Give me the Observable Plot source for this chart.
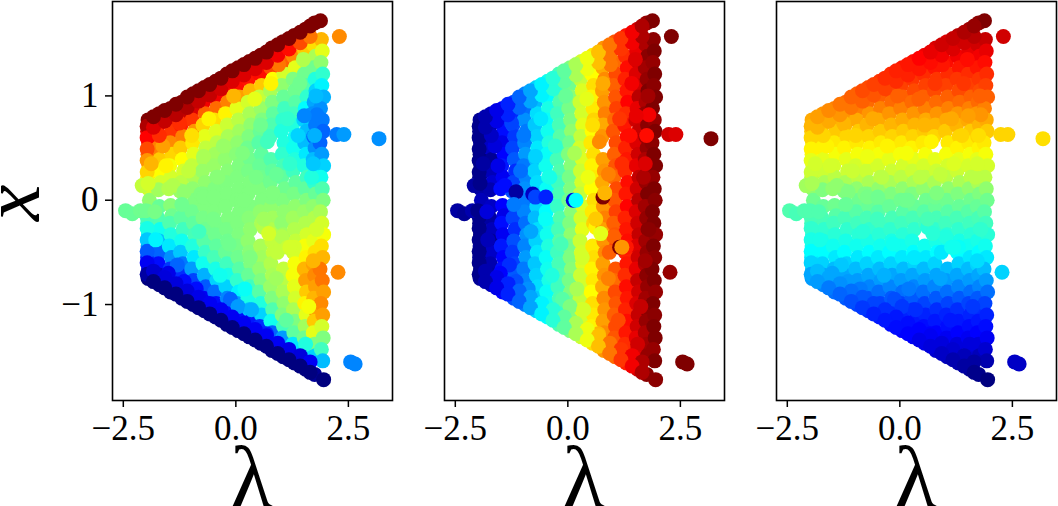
<!DOCTYPE html>
<html><head><meta charset="utf-8">
<script src="https://cdn.jsdelivr.net/npm/d3@7"></script>
<script src="https://cdn.jsdelivr.net/npm/@observablehq/plot@0.6"></script>
<style>html,body{margin:0;padding:0;background:#fff;overflow:hidden}#c{position:relative;width:1058px;height:506px;overflow:hidden}#c svg{position:absolute;top:0;overflow:visible;background:transparent}</style>
</head><body><div id="c"></div>
<script>
const xTicks=[-2.5,0,2.5];
const yTicks=[-1,0,1];
const lambda=[
-1.95,-1.96,-1.94,-1.95,-1.93,-1.96,-1.94,-1.92,-1.95,-1.96,-1.94,-1.95,-1.96,-1.94,-1.95,
-1.70,-1.72,-1.68,-1.73,-1.69,-1.71,-1.67,-1.72,-1.70,-1.73,-1.68,-1.71,-1.69,-1.72,-1.68,-1.70,
-1.45,-1.48,-1.43,-1.46,-1.42,-1.47,-1.44,-1.49,-1.45,-1.42,-1.47,-1.44,-1.48,-1.43,-1.46,-1.42,-1.45,
-1.20,-1.17,-1.22,-1.18,-1.23,-1.19,-1.16,-1.21,-1.24,-1.18,-1.22,-1.17,-1.20,-1.23,-1.18,-1.21,-1.17,-1.20,
-.95,-.93,-.97,-.92,-.96,-.94,-.98,-.93,-.96,-.92,-.97,-.94,-.91,-.96,-.93,-.98,-.94,-.92,-.95,
-.70,-.72,-.68,-.73,-.69,-.67,-.71,-.74,-.68,-.72,-.69,-.73,-.67,-.71,-.68,-.73,-.70,-.67,-.72,-.70,
-.45,-.47,-.43,-.48,-.44,-.42,-.46,-.49,-.43,-.47,-.44,-.48,-.42,-.46,-.43,-.48,-.45,-.42,-.47,-.44,-.45,
-.20,-.22,-.18,-.23,-.19,-.17,-.21,-.24,-.18,-.22,-.19,-.23,-.17,-.21,-.18,-.23,-.20,-.17,-.22,-.19,-.23,-.20,
.05,.03,.07,.02,.06,.08,.04,.01,.07,.03,.06,.02,.08,.04,.07,.02,.05,.08,.03,.06,.02,.05,.05,
.30,.28,.32,.27,.31,.33,.29,.26,.32,.28,.31,.27,.33,.29,.32,.27,.30,.33,.28,.31,.27,.30,.32,.30,
.55,.53,.57,.52,.56,.58,.54,.51,.57,.53,.56,.52,.58,.54,.57,.62,.55,.58,.53,.56,.52,.55,.57,.53,.55,
.80,.78,.82,.77,.81,.83,.79,.76,.70,.78,.81,.77,.83,.79,.82,.77,.80,.83,.78,.81,.77,.80,.82,.78,.81,.80,
1.05,1.03,1.07,1.02,1.06,1.08,1.04,1.01,1.07,1.03,1.06,1.02,1.08,1.04,1.07,1.02,1.05,1.08,.92,1.06,1.02,1.05,1.07,1.03,1.06,1.04,1.05,
1.30,1.28,1.32,1.27,1.31,1.33,1.29,1.26,1.32,1.28,1.31,1.27,1.33,1.29,1.32,1.27,1.30,1.33,1.28,1.31,1.27,1.30,1.32,1.28,1.31,1.29,1.27,1.30,
1.55,1.53,1.57,1.52,1.56,1.58,1.54,1.51,1.57,1.53,1.56,1.52,1.58,1.54,1.57,1.52,1.55,1.58,1.53,1.56,1.52,1.55,1.57,1.53,1.56,1.54,1.52,1.55,1.55,
1.75,1.73,1.77,1.72,1.76,1.78,1.74,1.71,1.77,1.73,1.76,1.72,1.78,1.74,1.77,1.72,1.75,1.78,1.73,1.76,1.72,1.75,1.77,1.73,1.76,1.74,1.72,1.75,1.77,1.75,
1.88,1.90,1.92,1.89,1.93,1.91,1.95,1.88,1.92,1.94,1.87,1.91,1.95,1.89,1.92,1.94,1.88,1.91,1.95,1.90,1.93,1.87,1.92,1.95,1.89,1.93,1.91,1.94,1.90,1.93,1.95,
-1.97,-1.97,-1.97,-1.97,-1.97,-1.97,-1.97,-1.97,-1.97,-1.97,-1.97,
-1.62,.42,-.35,1.2,-1.05,.9,-1.78,.15,1.62,-.6,.62,-1.3,1.42,-.12,-1.55,.78,-.82,1.12,.32,-1.88,1.68,-.28,.55,-.98,1.3,-1.15,.05,1.8,-.5,.9,-1.5,-.05,1.5,.45,-.72,1.02,-1.7,.2,1.72,-1.25,.68,-.4,1.38,.95,-.88,1.55,-1.4,.35,1.15,-.15,
-1.83,-1.58,-1.33,-1.08,-.83,-.58,-.33,-.08,.18,.43,.68,.93,1.18,1.43,1.65,
-1.83,-1.58,-1.33,-1.08,-.83,-.58,-.33,-.08,.18,.43,.68,.93,1.18,1.43,1.65,
-1.83,-1.58,-1.33,-1.08,-.83,-.58,-.33,-.08,.18,.43,.68,.93,1.18,1.43,1.65,
-1.83,-1.58,-1.33,-1.08,-.83,-.58,-.33,-.08,.18,.43,.68,.93,1.18,1.43,1.65,
-2.45,-2.30,-2.12,-2.00,-1.80,-2.08,-1.95,
3.18,2.24,2.40,2.30,2.27,2.55,2.65,
1.75,1.80,1.52,1.78,1.72,
-1.15,-.78,-.72,-.49,-1.20,.12,.18,.78,.82,1.15,1.20,.73
];
const xval=[
.77,.66,.55,.44,.33,.22,.11,0,-.11,-.22,-.33,-.44,-.55,-.66,-.75,
.83,.72,.61,.50,.39,.28,.17,.10,-.06,-.17,-.28,-.39,-.50,-.61,-.72,-.81,
.88,.77,.66,.55,.44,.33,.22,.11,-.05,-.15,-.22,-.33,-.44,-.55,-.66,-.77,-.88,
.94,.83,.72,.61,.50,.39,.28,.17,.09,-.06,-.17,-.28,-.39,-.50,-.61,-.72,-.83,-.94,
1.02,.88,.77,.66,.55,.44,.33,.22,.11,0,-.11,-.22,-.33,-.44,-.55,-.66,-.77,-.88,-1.0,
1.08,.94,.83,.72,.61,.50,.39,.28,.17,.06,-.06,-.17,-.28,-.39,-.50,-.61,-.72,-.83,-.94,-1.06,
1.14,.99,.88,.77,.66,.55,.44,.33,.22,.11,0,-.11,-.22,-.33,-.44,-.55,-.66,-.77,-.88,-.99,-1.12,
1.21,1.05,.94,.83,.72,.61,.50,.39,.28,.17,.06,-.06,-.17,-.28,-.39,-.50,-.61,-.72,-.83,-.94,-1.05,-1.19,
1.27,1.10,.99,.88,.77,.66,.55,.44,.33,.22,.11,0,-.11,-.22,-.33,-.44,-.55,-.66,-.77,-.88,-.99,-1.10,-1.25,
1.33,1.16,1.05,.94,.83,.72,.61,.50,.39,.28,.17,.06,-.06,-.17,-.28,-.39,-.50,-.61,-.72,-.83,-.94,-1.05,-1.16,-1.31,
1.39,1.21,1.10,.99,.88,.77,.66,.55,.44,.33,.22,.11,0,-.11,-.22,-.26,-.44,-.55,-.66,-.77,-.88,-.99,-1.10,-1.21,-1.37,
1.46,1.27,1.16,1.05,.94,.83,.72,.61,.56,.39,.28,.17,.06,-.06,-.17,-.28,-.39,-.50,-.61,-.72,-.83,-.94,-1.05,-1.16,-1.27,-1.44,
1.52,1.32,1.21,1.10,.99,.88,.77,.66,.55,.44,.33,.22,.11,0,-.11,-.22,-.33,-.44,-.50,-.66,-.77,-.88,-.99,-1.10,-1.21,-1.32,-1.50,
1.58,1.38,1.27,1.16,1.05,.94,.83,.72,.61,.50,.39,.28,.17,.06,-.06,-.17,-.28,-.39,-.50,-.61,-.72,-.83,-.94,-1.05,-1.16,-1.27,-1.38,-1.56,
1.64,1.43,1.32,1.21,1.10,.99,.88,.77,.66,.55,.44,.33,.22,.11,0,-.11,-.22,-.33,-.44,-.55,-.66,-.77,-.88,-.99,-1.10,-1.21,-1.32,-1.43,-1.62,
1.70,1.49,1.38,1.27,1.16,1.05,.94,.83,.72,.61,.50,.39,.28,.17,.06,-.06,-.17,-.28,-.39,-.50,-.61,-.72,-.83,-.94,-1.05,-1.16,-1.27,-1.38,-1.49,-1.67,
1.72,1.54,1.43,1.32,1.21,1.10,.99,.88,.77,.66,.55,.44,.33,.22,.11,0,-.11,-.22,-.33,-.44,-.55,-.66,-.77,-.88,-.99,-1.10,-1.21,-1.32,-1.43,-1.54,-1.72,
.71,.60,.49,.38,.27,-.16,-.27,-.38,-.49,-.60,-.71,
.52,.97,-.72,.35,.28,-.75,-.38,.45,-1.02,.78,-.18,-.62,1.12,-.95,.33,1.12,-.3,-1.15,-.55,.35,.22,.52,.72,.62,-.45,-.78,-1.02,-.28,-.18,.25,-.7,1.0,1.35,.22,.42,-.35,.62,-.85,-.58,.74,-1.28,.22,.62,1.3,-.85,-1.38,.14,-1.05,.78,-.42,
.70,.76,.82,.89,.95,1.01,1.07,1.14,1.20,1.26,1.32,1.39,1.45,1.51,1.57,
-.68,-.74,-.80,-.87,-.93,-.99,-1.05,-1.12,-1.18,-1.24,-1.30,-1.37,-1.43,-1.49,-1.55,
.80,.86,.92,.99,1.05,1.11,1.17,1.24,1.30,1.36,1.42,1.49,1.55,1.61,1.67,
-.78,-.84,-.90,-.97,-1.03,-1.09,-1.15,-1.22,-1.28,-1.34,-1.40,-1.47,-1.53,-1.59,-1.65,
-.10,-.13,-.10,-.10,-.11,.14,.16,
.59,.63,.63,1.57,-.69,-1.55,-1.57,
.62,.82,.81,1.00,.35,
.08,.06,.03,.03,-.04,0,0,.03,.07,-.45,-.45,-.32
];
const colorA=[
100,92,86,79,72,66,60,52,45,41,33,25,14,7,0,
100,92,84,77,70,65,60,54,47,44,36,28,20,12,6,0,
100,93,84,76,69,64,60,56,51,48,44,38,32,24,16,8,0,
100,94,86,77,70,65,60,57,53,49,46,42,36,29,22,15,7,0,
100,92,84,75,67,62,58,55,52,50,48,46,43,38,32,25,17,9,0,
100,90,80,69,62,58,55,53,52,50,50,49,48,45,41,36,27,19,10,0,
100,90,79,68,61,57,54,53,51,50,50,50,49,48,46,43,37,30,21,12,0,
100,89,77,66,59,55,53,52,51,50,50,50,50,49,48,47,42,37,30,23,12,0,
100,88,74,62,57,54,52,51,50,50,50,50,50,50,50,49,48,45,40,33,25,12,0,
100,87,72,60,55,52,50,48,48,49,50,50,50,51,52,52,51,50,47,42,37,28,13,0,
100,88,70,58,53,50,47,45,46,47,48,50,50,52,55,56,55,54,52,50,45,38,30,15,0,
100,82,65,55,50,46,44,42,42,44,46,48,50,52,54,56,58,58,56,55,53,50,44,36,20,0,
100,80,60,52,47,42,40,38,38,40,43,46,48,50,52,52,54,58,58,58,57,55,52,50,42,25,0,
100,76,62,50,48,45,42,38,36,36,38,42,46,49,52,54,56,58,60,64,64,62,60,55,50,46,32,0,
100,70,58,48,44,40,34,30,28,28,32,38,42,46,50,53,56,60,64,66,72,74,70,66,62,54,48,30,0,
100,68,55,48,38,30,26,24,22,20,24,28,34,40,47,52,56,60,62,68,74,76,74,72,74,70,62,50,30,2,
100,72,62,52,40,33,27,24,22,20,20,25,30,36,44,50,55,60,64,68,72,78,78,74,76,74,60,50,42,28,0,
96,89,82,75,69,43,37,29,19,10,3,
74,62,36,40,58,54,33,50,64,66,54,20,48,20,66,66,42,46,50,72,38,53,48,68,60,12,25,60,49,47,9,72,56,49,55,56,85,35,72,85,14,51,30,78,12,38,56,27,40,48,
92,94,95,96,94,94,93,92,92,92,92,90,88,82,78,
7,8,8,8,9,10,10,10,10,10,10,10,9,8,10,
100,100,100,100,100,100,100,100,100,100,100,100,100,100,100,
0,0,0,0,0,0,0,0,0,0,0,0,0,0,0,
47,47,48,48,49,58,60,
24,22,25,76,76,23,23,
27,22,23,28,29,
52,50,50,50,48,50,50,50,50,58,60,60
];
const colorB=[
2,1,3,0,2,1,3,5,2,1,0,3,2,0,2,
5,3,4,6,2,5,7,4,6,3,5,2,6,4,3,5,
11,10,12,9,11,13,10,12,11,9,12,10,13,11,12,10,11,
17,15,18,16,17,19,15,17,18,16,17,15,18,16,17,19,16,18,
23,21,24,22,23,25,22,23,24,22,23,21,24,23,25,22,23,24,22,
30,28,31,29,30,32,28,30,31,29,30,28,31,30,32,29,30,31,29,30,
36,34,37,35,36,38,35,36,37,35,36,34,37,36,38,35,36,37,35,36,34,
43,41,44,42,43,45,42,43,44,42,43,41,44,43,45,42,43,44,42,43,41,44,
50,48,51,49,50,52,48,50,51,49,50,48,51,50,52,49,50,51,49,50,48,51,50,
60,58,61,59,60,62,58,60,61,59,60,58,61,60,62,59,60,61,59,60,58,61,60,59,
67,65,68,66,67,69,65,67,68,66,67,65,68,67,69,66,67,68,66,67,65,68,67,66,68,
75,73,76,74,75,77,73,75,76,74,75,73,76,75,77,74,75,76,74,75,73,76,75,74,76,75,
81,79,82,80,81,83,79,81,82,80,81,79,82,81,83,80,81,82,80,81,79,82,81,80,82,81,79,
87,85,88,86,87,89,85,87,88,86,87,85,88,87,89,86,87,88,86,87,85,88,87,86,88,87,85,86,
93,91,94,92,93,95,91,93,94,92,93,91,94,93,95,92,93,94,92,93,91,94,93,92,94,93,91,92,93,
98,96,99,97,98,100,96,98,99,97,98,96,99,98,100,97,98,99,97,98,96,99,98,97,99,98,96,97,98,99,
100,99,100,98,100,99,100,100,98,100,99,100,100,98,100,99,100,100,98,100,99,100,100,98,100,99,100,100,98,100,99,
1,1,1,1,1,1,1,1,1,1,1,
8,62,38,85,21,77,5,55,94,32,70,15,90,45,9,73,26,82,60,3,96,40,68,22,87,18,50,99,35,77,11,47,92,63,30,80,6,55,97,17,72,37,88,78,24,93,12,60,84,43,
4,9,14,20,26,33,39,46,55,63,71,78,84,90,96,
4,9,14,20,26,33,39,46,55,63,71,78,84,90,96,
4,9,14,20,26,33,39,46,55,63,71,78,84,90,96,
4,9,14,20,26,33,39,46,55,63,71,78,84,90,96,
3,2,4,1,8,3,1,
100,93,92,100,98,100,100,
88,90,91,97,92,
3,6,17,14,22,8,34,100,72,100,75,62
];
const colorC=[
73,70,67,64,60,57,52,48,45,42,39,36,32,28,25,
75,72,69,66,62,59,55,50,47,43,40,37,34,30,26,23,
77,73,70,67,64,60,57,52,48,45,42,39,36,32,28,25,21,
79,75,72,69,66,62,59,55,50,47,43,40,37,34,30,26,23,19,
80,77,73,70,67,64,60,57,52,48,45,42,39,36,32,28,25,21,17,
82,79,75,72,69,66,62,59,55,50,47,43,40,37,34,30,26,23,19,15,
84,80,77,73,70,67,64,60,57,52,48,45,42,39,36,32,28,25,21,17,13,
85,82,79,75,72,69,66,62,59,55,50,47,43,40,37,34,30,26,23,19,15,12,
87,83,80,77,73,70,67,64,60,57,52,48,45,42,39,36,32,28,25,21,17,14,11,
88,84,82,79,75,72,69,66,62,59,55,50,47,43,40,37,34,30,26,23,19,15,13,10,
90,85,83,80,77,73,70,67,64,60,57,52,48,45,42,39,36,32,28,25,21,17,14,12,9,
92,87,84,82,79,75,72,69,66,62,59,55,50,47,43,40,37,34,30,26,23,19,15,13,11,7,
92,88,85,83,80,77,73,70,67,64,60,57,52,48,45,42,39,36,32,28,25,21,17,14,12,10,5,
95,90,87,84,82,79,75,72,69,66,62,59,55,50,47,43,40,37,34,30,26,23,19,15,13,11,8,4,
97,91,88,85,83,80,77,73,70,67,64,60,57,52,48,45,42,39,36,32,28,25,21,17,14,12,10,7,2,
99,93,90,87,84,82,79,75,72,69,66,62,59,55,50,47,43,40,37,34,30,26,23,19,15,13,11,8,5,1,
100,94,91,88,85,83,80,77,73,70,67,64,60,57,52,48,45,42,39,36,32,28,25,21,17,14,12,10,7,4,0,
72,69,66,62,59,43,40,37,34,30,26,
66,80,27,61,59,26,37,64,16,73,43,29,84,18,60,84,39,13,32,60,57,66,72,69,35,25,16,40,42,58,26,80,88,57,63,38,69,22,31,72,11,57,69,87,22,8,52,15,73,36,
72,73,75,78,80,81,83,85,86,87,88,90,92,93,95,
28,26,24,21,19,17,15,13,12,11,10,8,7,5,3,
74,76,78,80,82,83,85,86,87,89,91,93,94,96,98,
25,22,20,18,16,14,13,12,11,9,8,6,4,3,1,
44,43,44,44,44,54,55,
68,69,69,93,30,6,6,
68,75,74,80,60,
50,50,49,48,47,48,48,48,50,36,36,39
];
const jetStops=[0,11,34,50,65,89,100];
const jetColors=["#00007f","#0000ff","#00ffff","#7fff7f","#ffff00","#ff0000","#7f0000"];
const panelLeft=[111.5,443.5,775.5];
const panelColors=[colorA,colorB,colorC];
const host=document.getElementById("c");
const serif='"Liberation Serif","DejaVu Serif",serif';
const mL=70,mT=1,mB=106,fw=280;
panelColors.forEach((col,i)=>{
  const marks=[
    Plot.dot(lambda,{x:lambda,y:xval,fill:col,r:7.5}),
    Plot.frame({stroke:"#000",strokeWidth:1.6}),
    Plot.axisX(xTicks,{tickSize:7,strokeWidth:1.5,tickPadding:8,fontSize:35,label:null,tickFormat:d=>d.toFixed(1).replace("-","\u2212")}),
    Plot.text(["\u03bb"],{frameAnchor:"bottom",dy:107,dx:-1,fontSize:88,fontFamily:serif,textAnchor:"middle",lineAnchor:"bottom",fill:"#000"})
  ];
  if(i===0){
    marks.push(Plot.axisY(yTicks,{tickSize:7,strokeWidth:1.5,tickPadding:7,fontSize:35,label:null,tickFormat:d=>String(d).replace("-","\u2212")}));
    marks.push(Plot.text(["x"],{frameAnchor:"left",dx:-100,dy:20,fontSize:82,fontStyle:"italic",fontFamily:serif,rotate:-90,fill:"#000"}));
  }
  const p=Plot.plot({
    width:mL+fw,height:506,marginLeft:mL,marginRight:0,marginTop:mT,marginBottom:mB,
    style:{fontFamily:serif,color:"#000",overflow:"visible",background:"transparent"},
    x:{domain:[-2.74,3.48],axis:null},
    y:{domain:[-1.92,1.905],axis:null},
    color:{type:"linear",domain:jetStops,range:jetColors,legend:false},
    marks
  });
  p.style.left=(panelLeft[i]-mL)+"px";
  host.appendChild(p);
});
if(new Set([lambda.length,xval.length,colorA.length,colorB.length,colorC.length]).size!==1)
  throw new Error("lengths "+[lambda.length,xval.length,colorA.length,colorB.length,colorC.length]);
</script>
</body></html>
